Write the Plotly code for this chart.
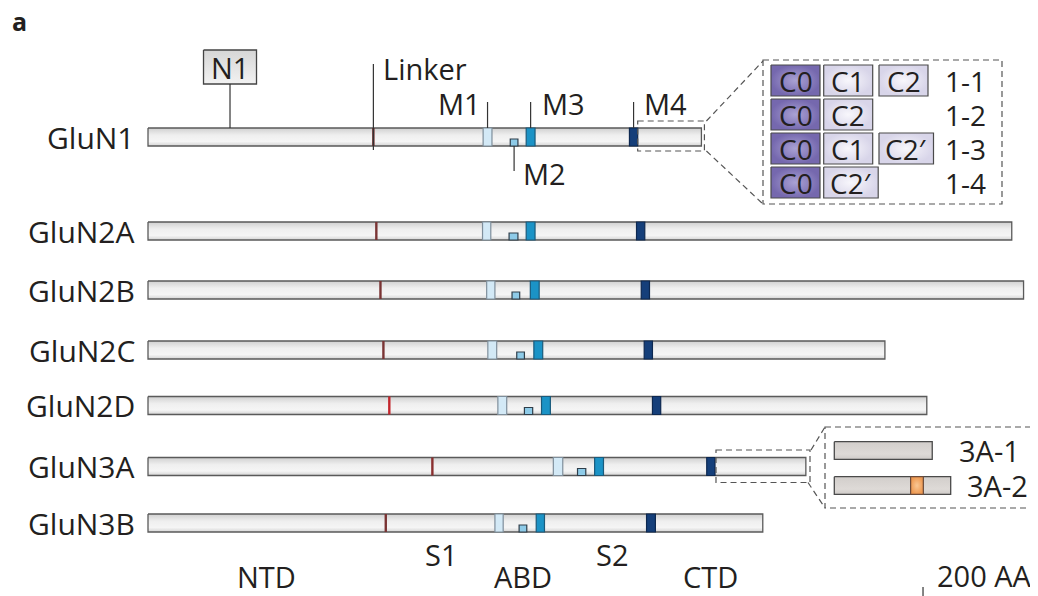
import plotly.graph_objects as go

# ---------------- data (amino-acid units) ----------------
genes = ["GluN1", "GluN2A", "GluN2B", "GluN2C", "GluN2D", "GluN3A", "GluN3B"]
length_aa = [938, 1464, 1484, 1249, 1320, 1115, 1042]
linker_aa = [382, 387, 394, 399, 409, 482, 403]
m1_start = [568, 567, 574, 576, 593, 687, 588]
m1_end = [583, 581, 588, 591, 608, 703, 602]
m2_start = [614, 612, 617, 625, 638, 728, 629]
m2_end = [627, 627, 630, 638, 652, 742, 642]
m3_start = [641, 641, 648, 654, 667, 757, 658]
m3_end = [656, 656, 663, 669, 682, 772, 672]
m4_start = [816, 828, 836, 841, 855, 947, 845]
m4_end = [830, 842, 850, 855, 869, 961, 860]
n1_aa = 139

# GluN1 C-terminal splice variants
variant_names = ["1-1", "1-2", "1-3", "1-4"]
variant_cassettes = [["C0", "C1", "C2"], ["C0", "C2"], ["C0", "C1", "C2\u2032"], ["C0", "C2\u2032"]]

# GluN3A C-terminal isoforms (inset units, aa)
isoforms_3a = ["3A-1", "3A-2"]
ctd_len_3a = [154, 183]
insert_3a = (120, 140)

region_labels = ["NTD", "S1", "ABD", "S2", "CTD"]
scale_label = "200 AA"
scale_aa = 200

# ---------------- layout constants ----------------
W, H = 1038, 596
PAGE_MARGIN = 8          # default body margin of the html page
PX_PER_AA = 0.59
X0_PX = 148
ROW_Y = [137, 231, 290, 350, 405.5, 466.5, 523]
BAR_H = 18
FONT = "Open Sans"
TXT = "#231f20"
EDGE = "#5a5a5a"
LINKER_COLORS = ["#6e2b2b", "#7a3434", "#7a3434", "#7a3434", "#c3262c", "#8a2f2f", "#7a3434"]
BAR_STOPS = [[0, "#d4d4d4"], [0.25, "#f5f5f5"], [0.6, "#efefef"], [1, "#d0d0d0"]]
DASH = "6px,4px"
FS = 29
FS_CELL = 28
FS_GENE = 30


def px(aa):
    return X0_PX + aa * PX_PER_AA


fig = go.Figure()


def grad_rect(x0, x1, y0, y1, stops, xaxis="x", gtype="vertical", line_color=EDGE, lw=1.3):
    fig.add_trace(go.Scatter(
        x=[x0, x1, x1, x0, x0], y=[y0, y0, y1, y1, y0], mode="lines", fill="toself",
        fillgradient=dict(type=gtype, colorscale=stops),
        line=dict(color=line_color, width=lw), xaxis=xaxis, yaxis="y",
        hoverinfo="skip", showlegend=False))


def rect(x0, x1, y0, y1, fill, line, xref="x", lw=1.0, dash=None):
    fig.add_shape(type="rect", xref=xref, yref="y", x0=x0, x1=x1, y0=y0, y1=y1,
                  fillcolor=fill, line=dict(color=line, width=lw, dash=dash), layer="above")


def seg(x0, y0, x1, y1, xref="x2", color="#333333", lw=1.2, dash=None):
    fig.add_shape(type="line", xref=xref, yref="y", x0=x0, y0=y0, x1=x1, y1=y1,
                  line=dict(color=color, width=lw, dash=dash), layer="above")


def text(x, y, s, xanchor="center", size=FS, xref="x2", bold=False, pad=1):
    fig.add_annotation(x=x, y=y, xref=xref, yref="y", text=("<b>%s</b>" % s) if bold else s,
                       showarrow=False, xanchor=xanchor, yanchor="middle", borderpad=pad,
                       font=dict(family=FONT, size=size, color=TXT))


# ---------------- main bars ----------------
for i, g in enumerate(genes):
    yc = ROW_Y[i]
    y0, y1 = yc - BAR_H / 2, yc + BAR_H / 2
    grad_rect(0, length_aa[i], y0, y1, BAR_STOPS)
    seg(linker_aa[i], y0, linker_aa[i], y1, xref="x", color=LINKER_COLORS[i], lw=2.4)
    rect(m1_start[i], m1_end[i], y0, y1, "#d3e9f6", "#7f8f9c", lw=1.2)
    rect(m2_start[i], m2_end[i], y1 - 7, y1, "#8ecbe8", "#2f3e4a", lw=1.2)
    rect(m3_start[i], m3_end[i], y0, y1, "#1b93c6", "#1a5b7c", lw=1.2)
    rect(m4_start[i], m4_end[i], y0, y1, "#153f7a", "#0d2850", lw=1.2)
    text(137, yc, g, xanchor="right", size=FS_GENE)

# ---------------- GluN1 annotations ----------------
top1 = ROW_Y[0] - BAR_H / 2
bot1 = ROW_Y[0] + BAR_H / 2
n1x = px(n1_aa)
grad_rect(n1x - 26.5, n1x + 26.5, 50, 84, [[0, "#f2f2f2"], [1, "#d6d6d6"]], xaxis="x2", line_color="#444444", lw=1.3)
seg(n1x, 84, n1x, top1)
text(n1x, 67, "N1")
lx = px(linker_aa[0])
seg(lx, 64, lx, bot1 + 4)
text(lx + 8, 68, "Linker", xanchor="left")
c = px((m1_start[0] + m1_end[0]) / 2)
seg(c, 102, c, top1)
text(c - 5, 103, "M1", xanchor="right")
c = px((m3_start[0] + m3_end[0]) / 2)
seg(c, 102, c, top1)
text(c + 9, 103, "M3", xanchor="left")
c = px((m4_start[0] + m4_end[0]) / 2)
seg(c, 102, c, top1)
text(c + 8, 103, "M4", xanchor="left")
c = px((m2_start[0] + m2_end[0]) / 2)
seg(c, bot1, c, 171)
text(c + 7, 173, "M2", xanchor="left")

# ---------------- GluN1 splice inset ----------------
bx0, bx1 = px(m4_end[0]), px(length_aa[0]) + 3
rect(bx0, bx1, top1 - 7, bot1 + 5, "rgba(0,0,0,0)", "#555555", xref="x2", lw=1.2, dash=DASH)
seg(bx1 + 2, top1 - 7, 763, 61, color="#555555", dash=DASH)
seg(bx1 + 2, bot1 + 5, 763, 204, color="#555555", dash=DASH)
rect(763, 1002, 60, 204, "rgba(0,0,0,0)", "#555555", xref="x2", lw=1.2, dash=DASH)

col_x = [771, 823.7, 879]
for r, (vname, cas) in enumerate(zip(variant_names, variant_cassettes)):
    ry0 = 65 + 34 * r
    ry1 = ry0 + 31
    for k, cname in enumerate(cas):
        w = 54.5 if "\u2032" in cname else 49
        cx0 = col_x[k]
        if cname == "C0":
            stops = [[0, "#aaa2d4"], [1, "#7568ae"]]
        else:
            stops = [[0, "#f8f7fc"], [1, "#d8d5e9"]]
        grad_rect(cx0, cx0 + w, ry0, ry1, stops, xaxis="x2", gtype="radial", line_color="#4a4a4a", lw=1.2)
        text(cx0 + w / 2, (ry0 + ry1) / 2, cname, size=FS_CELL, pad=0)
    text(965, (ry0 + ry1) / 2, vname, size=FS_CELL, pad=0)

# ---------------- GluN3A isoform inset ----------------
i3 = genes.index("GluN3A")
t3 = ROW_Y[i3] - BAR_H / 2
b3 = ROW_Y[i3] + BAR_H / 2
rect(px(m4_end[i3]) + 1, 810, t3 - 7.5, b3 + 7, "rgba(0,0,0,0)", "#555555", xref="x2", lw=1.2, dash=DASH)
seg(811, t3 - 7.5, 825, 427, color="#555555", dash=DASH)
seg(808, b3 + 7, 825, 508, color="#555555", dash=DASH)
rect(825, 1045, 427, 508, "rgba(0,0,0,0)", "#555555", xref="x2", lw=1.2, dash=DASH)

INSET_X0 = 834.3
INSET_PX = 0.636
iso_y = [(441.7, 459.3), (476.7, 494.3)]
iso_lbl_x = [957, 965]
GREY_STOPS = [[0, "#cfcbc8"], [0.3, "#dedad7"], [1, "#d2cecb"]]
for k, name in enumerate(isoforms_3a):
    ya, yb = iso_y[k]
    grad_rect(INSET_X0, INSET_X0 + ctd_len_3a[k] * INSET_PX, ya, yb, GREY_STOPS, xaxis="x2",
              line_color="#4a4a4a", lw=1.3)
    if k == 1:
        grad_rect(INSET_X0 + insert_3a[0] * INSET_PX, INSET_X0 + insert_3a[1] * INSET_PX, ya, yb,
                  [[0, "#f9c795"], [1, "#ef9a52"]], xaxis="x2", gtype="radial", line_color="#6a4a3a", lw=1.2)
    text(iso_lbl_x[k], (ya + yb) / 2, name, xanchor="left")

# ---------------- bottom labels & scale ----------------
region_x = [266, 441, 523, 612, 710]
region_y = [576, 554, 576, 554, 576]
for lbl, x, y in zip(region_labels, region_x, region_y):
    text(x, y, lbl)
sx = 1313.6
seg(sx, 587, sx, 600, xref="x", color="#333333", lw=1.2)
seg(sx, 600, sx + scale_aa, 600, xref="x", color="#333333", lw=1.2)
text(935, 575, scale_label, xanchor="left")

text(11, 21, "a", xanchor="left", size=25, bold=True, pad=0)

# the page adds an 8 px body margin, so the figure is shrunk by that much and
# its axes start at the page offset
fig.update_layout(
    width=W - PAGE_MARGIN, height=H - PAGE_MARGIN, margin=dict(l=0, r=0, t=0, b=0),
    paper_bgcolor="white", plot_bgcolor="white", showlegend=False, hovermode=False,
    xaxis=dict(range=[(PAGE_MARGIN - X0_PX) / PX_PER_AA, (W - X0_PX) / PX_PER_AA], visible=False, fixedrange=True),
    xaxis2=dict(range=[PAGE_MARGIN, W], overlaying="x", visible=False, fixedrange=True),
    yaxis=dict(range=[H, PAGE_MARGIN], visible=False, fixedrange=True),
)

fig.write_html("out.html")
